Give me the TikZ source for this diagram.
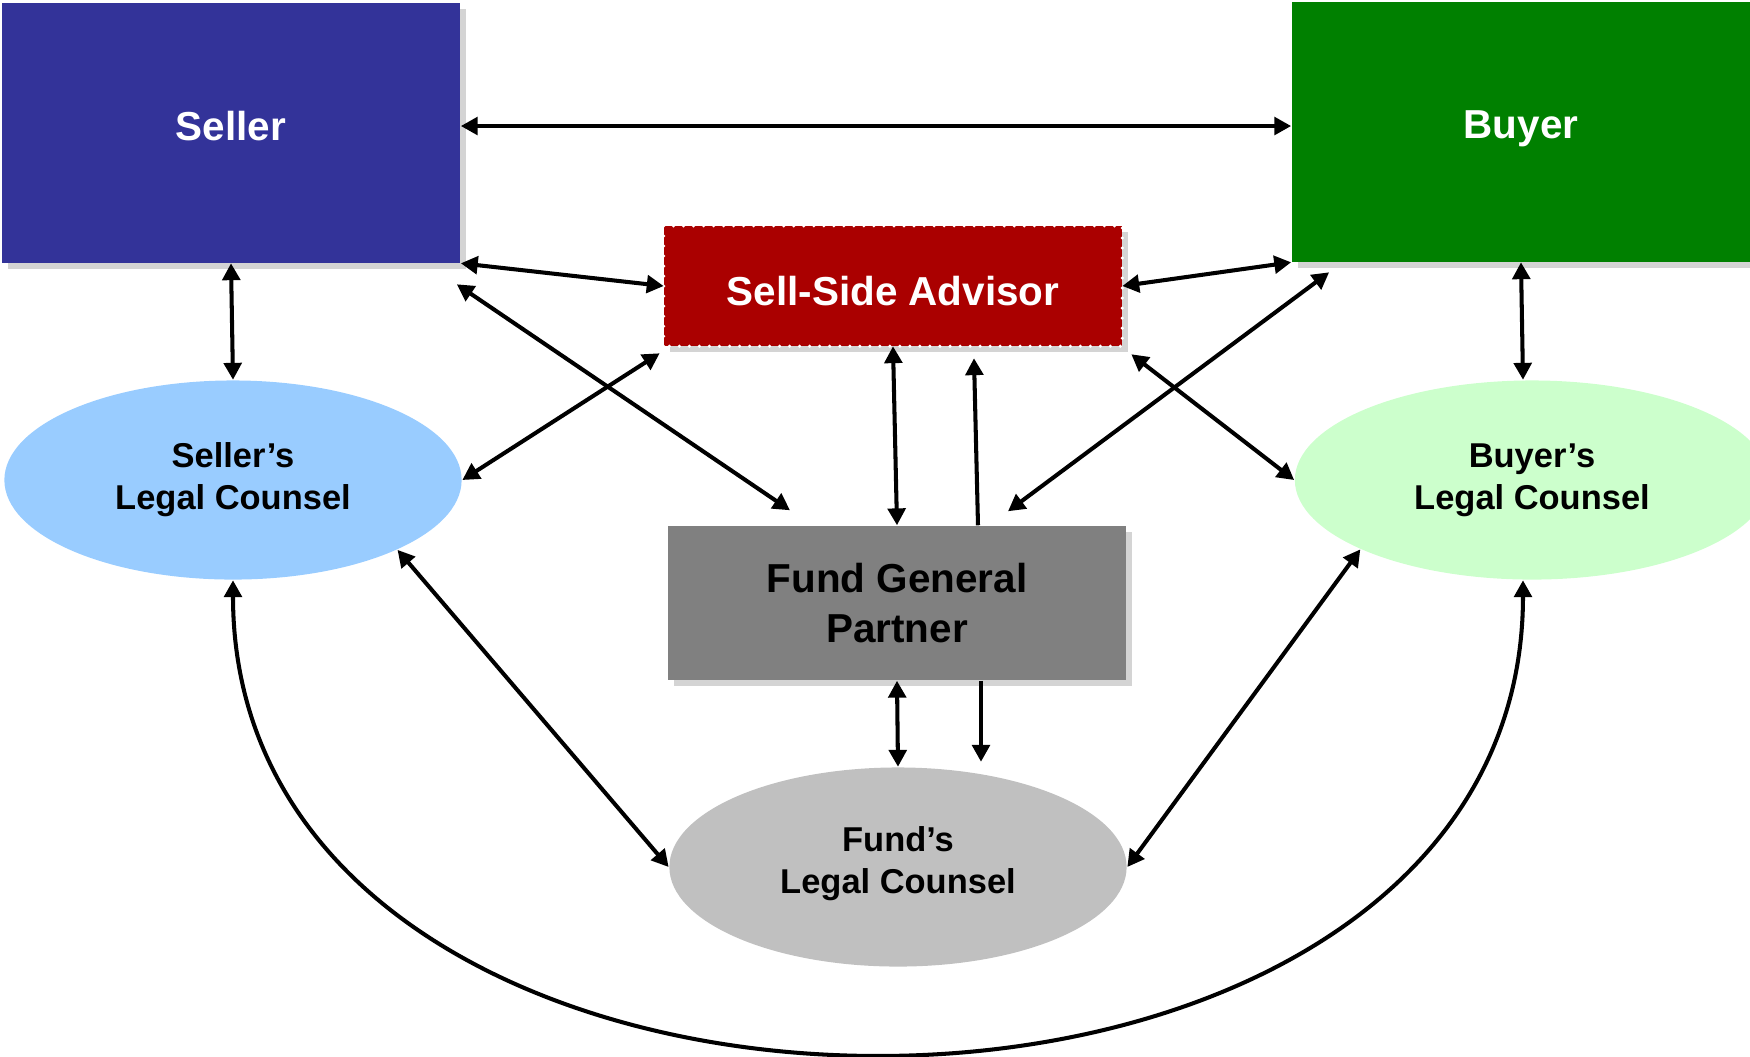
\documentclass[tikz,border=0pt]{standalone}
\usepackage{fontspec}
\setmainfont{Liberation Sans}
\usepackage{xcolor}
\usetikzlibrary{shapes.geometric,positioning,calc,arrows.meta,shadows}

\definecolor{sellerblue}{HTML}{333399}
\definecolor{buyergreen}{HTML}{008000}
\definecolor{advisorred}{HTML}{AA0000}
\definecolor{gpgray}{HTML}{808080}
\definecolor{sellerlc}{HTML}{99CCFF}
\definecolor{buyerlc}{HTML}{CCFFCC}
\definecolor{fundlc}{HTML}{C0C0C0}

\begin{document}
\begin{tikzpicture}[x=0.01cm,y=-0.01cm,font=\bfseries,
 b/.style={rectangle,inner sep=0pt,align=center,font=\bfseries\fontsize{11.5}{14}\selectfont,
  drop shadow={shadow xshift=1.7pt,shadow yshift=-1.7pt,fill=black!17,opacity=1}},
 party/.style={b,text=white,minimum width=4.58cm,minimum height=2.59cm,text depth=4pt},
 mid/.style={b,minimum width=4.57cm},
 oval/.style={ellipse,inner sep=0pt,align=center,minimum width=4.57cm,minimum height=1.99cm,
  font=\bfseries\fontsize{9.8}{12}\selectfont},
 ar/.style={{Triangle[length=4.8pt,width=5pt]}-{Triangle[length=4.8pt,width=5pt]},line width=1.15pt},
 arr/.style={-{Triangle[length=4.8pt,width=5pt]},line width=1.15pt}]
\useasboundingbox (0,0) rectangle (1750,1056);

% the two parties
\node[party,fill=sellerblue] (seller) at (231,133) {Seller};
\node[party,fill=buyergreen] (buyer) at (1521,132) {Buyer};

% middle column
\node[mid,fill=advisorred,text=white,minimum height=1.19cm,text height=11pt] (ssa) at (893,286) {Sell-Side Advisor};
\draw[white,line width=1pt,line cap=round,dash pattern=on 0pt off 2.85pt]
 (ssa.south west) rectangle (ssa.north east);
\node[mid,fill=gpgray,minimum height=1.54cm] (fgp) at (897,603) {Fund General\\Partner};

% legal counsel
\node[oval,fill=sellerlc] (slc) at (233,480) {Seller’s\\Legal Counsel};
\node[oval,fill=buyerlc,minimum width=4.74cm] (blc) at (1532,480) {Buyer’s\\Legal Counsel};
\node[oval,fill=fundlc,text depth=4pt] (flc) at (898,867) {Fund’s\\Legal Counsel};

\draw[ar] ($(seller.east)+(0,-7)$) -- ($(buyer.west)+(0,-6)$);
\draw[ar] (seller.south) -- (slc.north);
\draw[ar] (buyer.south) -- ($(blc.north)+(-9,0)$);
\draw[ar] (seller.south east) -- (ssa.west);
\draw[ar] (ssa.east) -- (buyer.south west);
\draw[ar] ($(seller.south east)+(-4,21)$) -- ($(fgp.north)+(-107,-15)$);
\draw[ar] (slc.east) -- ($(ssa.south west)+(-4,7)$);
\draw[ar] ($(ssa.south east)+(9,8)$) -- (blc.west);
\draw[ar] ($(buyer.south west)+(38,10)$) -- ($(fgp.north)+(111,-14)$);
\draw[ar] (ssa.south) -- (fgp.north);
\draw[arr] ($(fgp.north)+(81,0)$) -- ($(ssa.south)+(81,12)$);
\draw[ar] (fgp.south) -- (flc.north);
\draw[arr] ($(fgp.south)+(84,0)$) -- ($(flc.north)+(83,-5)$);
\draw[ar] (slc.-23) -- (flc.west);
\draw[ar] (blc.-158) -- (flc.east);
\draw[ar] (slc.south) .. controls +(0,629) and +(0,629) .. ($(blc.south)+(-9,0)$);
\end{tikzpicture}
\end{document}
